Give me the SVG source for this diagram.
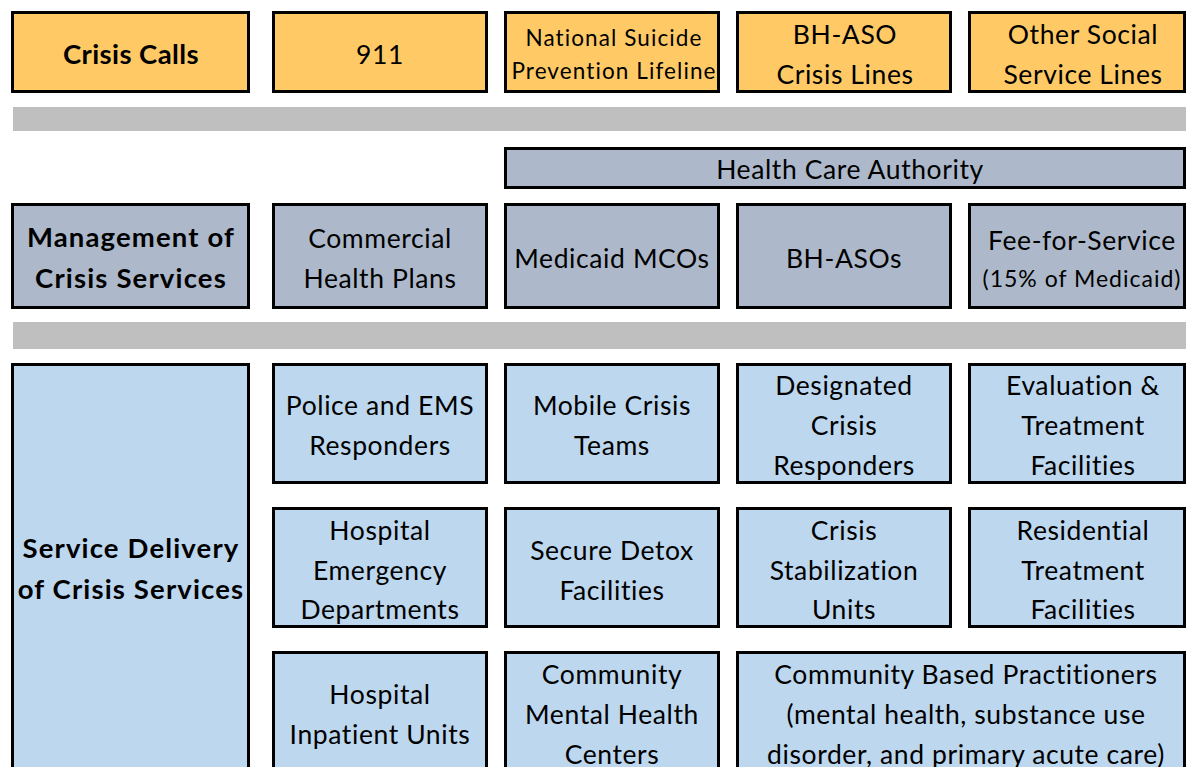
<svg xmlns="http://www.w3.org/2000/svg" width="1186" height="767" viewBox="0 0 1186 767">
<style>
  .box { stroke: #000; stroke-width: 3; }
  .calls { fill: #FFCA66; }
  .mgmt { fill: #ADB9CA; }
  .svc { fill: #BDD7EE; }
  .band { fill: #BFBFBF; }
  text { font-family: Lato, Carlito, "Liberation Sans", sans-serif; font-size: 26.5px; fill: #000; text-anchor: middle; letter-spacing: 0.6px; }
  .b { font-weight: 700; font-size: 27.5px; letter-spacing: 1.15px; }
  .b2 { font-weight: 700; font-size: 27.5px; letter-spacing: 0.4px; }
  .sm { font-size: 22.5px; letter-spacing: 1.1px; }
  .sm2 { font-size: 23px; letter-spacing: 1px; }
</style>
<rect width="1186" height="767" fill="#fff"/>
<g id="bands">
  <rect class="band" x="13" y="107" width="1173" height="24"/>
  <rect class="band" x="13" y="322" width="1173" height="27"/>
</g>
<g id="connectors"/>
<g id="crisis-calls">
  <rect class="box calls" x="12.5" y="12.5" width="236" height="79"/>
  <text class="b2" x="131" y="64">Crisis Calls</text>
</g>
<g id="n911">
  <rect class="box calls" x="273.5" y="12.5" width="213" height="79"/>
  <text x="380" y="64">911</text>
</g>
<g id="nspl">
  <rect class="box calls" x="505.5" y="12.5" width="213" height="79"/>
  <text class="sm" x="614" y="46">National Suicide</text>
  <text class="sm" x="614" y="79">Prevention Lifeline</text>
</g>
<g id="bhaso-lines">
  <rect class="box calls" x="737.5" y="12.5" width="213" height="79"/>
  <text x="845" y="44">BH-ASO</text>
  <text x="845" y="84">Crisis Lines</text>
</g>
<g id="other-lines">
  <rect class="box calls" x="969.5" y="12.5" width="215" height="79"/>
  <text x="1083" y="44">Other Social</text>
  <text x="1083" y="84">Service Lines</text>
</g>
<g id="hca">
  <rect class="box mgmt" x="505.5" y="148.5" width="679" height="39"/>
  <text x="850" y="179">Health Care Authority</text>
</g>
<g id="management">
  <rect class="box mgmt" x="12.5" y="204.5" width="236" height="103"/>
  <text class="b" x="131" y="247">Management of</text>
  <text class="b" x="131" y="288">Crisis Services</text>
</g>
<g id="commercial">
  <rect class="box mgmt" x="273.5" y="204.5" width="213" height="103"/>
  <text x="380" y="248">Commercial</text>
  <text x="380" y="288">Health Plans</text>
</g>
<g id="mco">
  <rect class="box mgmt" x="505.5" y="204.5" width="213" height="103"/>
  <text x="612" y="268">Medicaid MCOs</text>
</g>
<g id="bhasos">
  <rect class="box mgmt" x="737.5" y="204.5" width="213" height="103"/>
  <text x="844" y="268">BH-ASOs</text>
</g>
<g id="ffs">
  <rect class="box mgmt" x="969.5" y="204.5" width="215" height="103"/>
  <text x="1082" y="250">Fee-for-Service</text>
  <text class="sm2" x="1082" y="287">(15% of Medicaid)</text>
</g>
<g id="service-delivery">
  <rect class="box svc" x="12.5" y="364.5" width="236" height="420"/>
  <text class="b" x="131" y="558">Service Delivery</text>
  <text class="b" x="131" y="599">of Crisis Services</text>
</g>
<g id="police">
  <rect class="box svc" x="273.5" y="364.5" width="213" height="118"/>
  <text x="380" y="415">Police and EMS</text>
  <text x="380" y="455">Responders</text>
</g>
<g id="mobile">
  <rect class="box svc" x="505.5" y="364.5" width="213" height="118"/>
  <text x="612" y="415">Mobile Crisis</text>
  <text x="612" y="455">Teams</text>
</g>
<g id="dcr">
  <rect class="box svc" x="737.5" y="364.5" width="213" height="118"/>
  <text x="844" y="395">Designated</text>
  <text x="844" y="435">Crisis</text>
  <text x="844" y="475">Responders</text>
</g>
<g id="et">
  <rect class="box svc" x="969.5" y="364.5" width="215" height="118"/>
  <text x="1083" y="395">Evaluation &amp;</text>
  <text x="1083" y="435">Treatment</text>
  <text x="1083" y="475">Facilities</text>
</g>
<g id="hed">
  <rect class="box svc" x="273.5" y="508.5" width="213" height="118"/>
  <text x="380" y="540">Hospital</text>
  <text x="380" y="580">Emergency</text>
  <text x="380" y="619">Departments</text>
</g>
<g id="detox">
  <rect class="box svc" x="505.5" y="508.5" width="213" height="118"/>
  <text x="612" y="560">Secure Detox</text>
  <text x="612" y="600">Facilities</text>
</g>
<g id="csu">
  <rect class="box svc" x="737.5" y="508.5" width="213" height="118"/>
  <text x="844" y="540">Crisis</text>
  <text x="844" y="580">Stabilization</text>
  <text x="844" y="619">Units</text>
</g>
<g id="rtf">
  <rect class="box svc" x="969.5" y="508.5" width="215" height="118"/>
  <text x="1083" y="540">Residential</text>
  <text x="1083" y="580">Treatment</text>
  <text x="1083" y="619">Facilities</text>
</g>
<g id="inpatient">
  <rect class="box svc" x="273.5" y="652.5" width="213" height="130"/>
  <text x="380" y="704">Hospital</text>
  <text x="380" y="744">Inpatient Units</text>
</g>
<g id="cmhc">
  <rect class="box svc" x="505.5" y="652.5" width="213" height="130"/>
  <text x="612" y="684">Community</text>
  <text x="612" y="724">Mental Health</text>
  <text x="612" y="764">Centers</text>
</g>
<g id="cbp">
  <rect class="box svc" x="737.5" y="652.5" width="447" height="130"/>
  <text x="966" y="684">Community Based Practitioners</text>
  <text x="966" y="724">(mental health, substance use</text>
  <text x="966" y="764">disorder, and primary acute care)</text>
</g>
</svg>
